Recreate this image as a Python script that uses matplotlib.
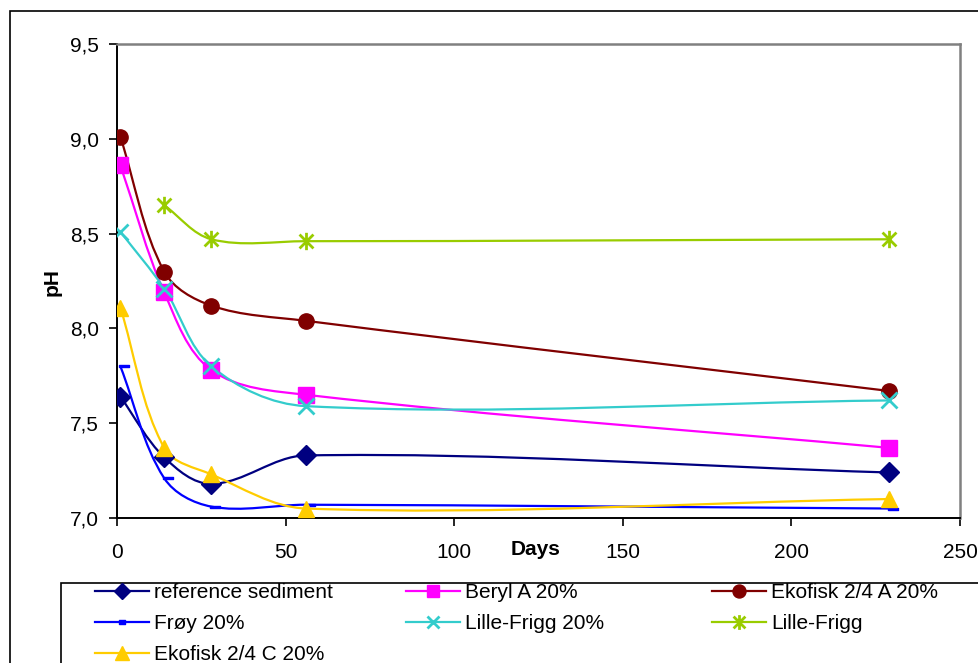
import numpy as np
import matplotlib
matplotlib.use('Agg')
import matplotlib.pyplot as plt
from matplotlib.path import Path
from matplotlib.patches import PathPatch, Rectangle
from matplotlib.lines import Line2D
from matplotlib.ticker import FuncFormatter, MultipleLocator

plt.rcParams['font.family'] = ['Liberation Sans', 'DejaVu Sans']

# sampling days
days = [1, 14, 28, 56, 229]
days_lf = [14, 28, 56, 229]

# pH values
reference = [7.64, 7.32, 7.18, 7.33, 7.24]
beryl = [8.86, 8.19, 7.78, 7.65, 7.37]
ekofisk_a = [9.01, 8.30, 8.12, 8.04, 7.67]
froy = [7.80, 7.21, 7.06, 7.07, 7.05]
lille_frigg_20 = [8.51, 8.21, 7.80, 7.59, 7.62]
lille_frigg = [8.65, 8.47, 8.46, 8.47]
ekofisk_c = [8.11, 7.37, 7.23, 7.05, 7.10]

labels = ['reference sediment', 'Beryl A 20%', 'Ekofisk 2/4 A 20%', 'Frøy 20%',
          'Lille-Frigg 20%', 'Lille-Frigg', 'Ekofisk 2/4 C 20%']

# custom markers: Excel style dash and star
dash = Path([(-0.15, -0.17), (1, -0.17), (1, 0.17), (-0.15, 0.17), (-0.15, -0.17)],
            [Path.MOVETO, Path.LINETO, Path.LINETO, Path.LINETO, Path.CLOSEPOLY])
dash_leg = Path([(-1, -0.45), (1, -0.45), (1, 0.45), (-1, 0.45), (-1, -0.45)],
                [Path.MOVETO, Path.LINETO, Path.LINETO, Path.LINETO, Path.CLOSEPOLY])
star = Path([(0, -1), (0, 1), (-0.8, -0.8), (0.8, 0.8), (-0.8, 0.8), (0.8, -0.8)],
            [Path.MOVETO, Path.LINETO, Path.MOVETO, Path.LINETO, Path.MOVETO, Path.LINETO])

series = [
    (days, reference, '#000080', 'D', 10, 'full'),
    (days, beryl, '#FF00FF', 's', 11, 'full'),
    (days, ekofisk_a, '#800000', 'o', 11, 'full'),
    (days, froy, '#0000FF', dash, 12.5, 'full'),
    (days, lille_frigg_20, '#33CCCC', 'x', 11, 'line'),
    (days_lf, lille_frigg, '#99CC00', star, 12.5, 'line'),
    (days, ekofisk_c, '#FFCC00', '^', 12, 'full'),
]

fig = plt.figure(figsize=(9.79, 6.63), dpi=100)
ax = fig.add_axes([117/979, 1 - 518/663, 843/979, 474/663])
ax.set_xlim(0, 250)
ax.set_ylim(7.0, 9.5)


def smooth(ax, x, y):
    # smoothed line like Excel: bezier segments built in pixel space
    pts = ax.transData.transform(np.column_stack([x, y]))
    n = len(pts)
    verts = [pts[0]]
    codes = [Path.MOVETO]
    for i in range(n - 1):
        p0 = pts[max(i - 1, 0)]
        p1 = pts[i]
        p2 = pts[i + 1]
        p3 = pts[min(i + 2, n - 1)]
        seg = np.hypot(*(p2 - p1))
        t1 = (p2 - p0) / np.hypot(*(p2 - p0))
        t2 = (p3 - p1) / np.hypot(*(p3 - p1))
        verts += [p1 + t1 * seg / 3, p2 - t2 * seg / 3, p2]
        codes += [Path.CURVE4] * 3
    verts = ax.transData.inverted().transform(np.array(verts))
    return Path(verts, codes)


handles = []
for (x, y, c, m, ms, kind), lab in zip(series, labels):
    ax.add_patch(PathPatch(smooth(ax, x, y), fill=False, ec=c, lw=1.6, zorder=2))
    if kind == 'full':
        kw = dict(mfc=c, mec=c, mew=1)
    else:
        kw = dict(mfc='none', mec=c, mew=2)
    ax.plot(x, y, ls='none', marker=m, ms=ms, zorder=3, **kw)
    if m is dash:
        handles.append(Line2D([], [], color=c, lw=1.6, marker=dash_leg, ms=5, **kw))
    else:
        handles.append(Line2D([], [], color=c, lw=1.6, marker=m, ms=ms * 0.85, **kw))

ax.xaxis.set_major_locator(MultipleLocator(50))
ax.yaxis.set_major_locator(MultipleLocator(0.5))
ax.yaxis.set_major_formatter(FuncFormatter(lambda v, p: f'{v:.1f}'.replace('.', ',')))
ax.tick_params(axis='both', direction='out', length=6, width=1.2, labelsize=15)
ax.tick_params(axis='x', pad=12)
ax.tick_params(axis='y', pad=7)

for s in ['top', 'right']:
    ax.spines[s].set_color('#808080')
    ax.spines[s].set_linewidth(1.8)
for s in ['left', 'bottom']:
    ax.spines[s].set_color('black')
    ax.spines[s].set_linewidth(1.4)

ax.set_xlabel('Days', fontsize=15, fontweight='bold')
ax.xaxis.set_label_coords(0.496, -0.066)
ax.xaxis.label.set_va('center')
ax.set_ylabel('pH', fontsize=15, fontweight='bold')
ax.yaxis.set_label_coords(-0.077, 0.498)
ax.yaxis.label.set_va('center')

# chart border and legend box
fig.patches.append(Rectangle((10/979, -0.1), 1.2, 1 - 11/663 + 0.1, transform=fig.transFigure,
                             fill=False, ec='black', lw=1.2))
fig.patches.append(Rectangle((61/979, -0.1), 1.2, 1 - 583/663 + 0.1, transform=fig.transFigure,
                             fill=False, ec='black', lw=1.2))

cols = [([0, 3, 6], 95), ([1, 4], 406), ([2, 5], 712)]
for idx, xpix in cols:
    fig.legend([handles[i] for i in idx], [labels[i] for i in idx],
               loc='upper left', bbox_to_anchor=(xpix/979, 1 - 583/663),
               bbox_transform=fig.transFigure, frameon=False, fontsize=15,
               handlelength=2.6, handletextpad=0.25, labelspacing=0.58,
               borderpad=0, borderaxespad=0)

fig.savefig('out.png', dpi=100)
